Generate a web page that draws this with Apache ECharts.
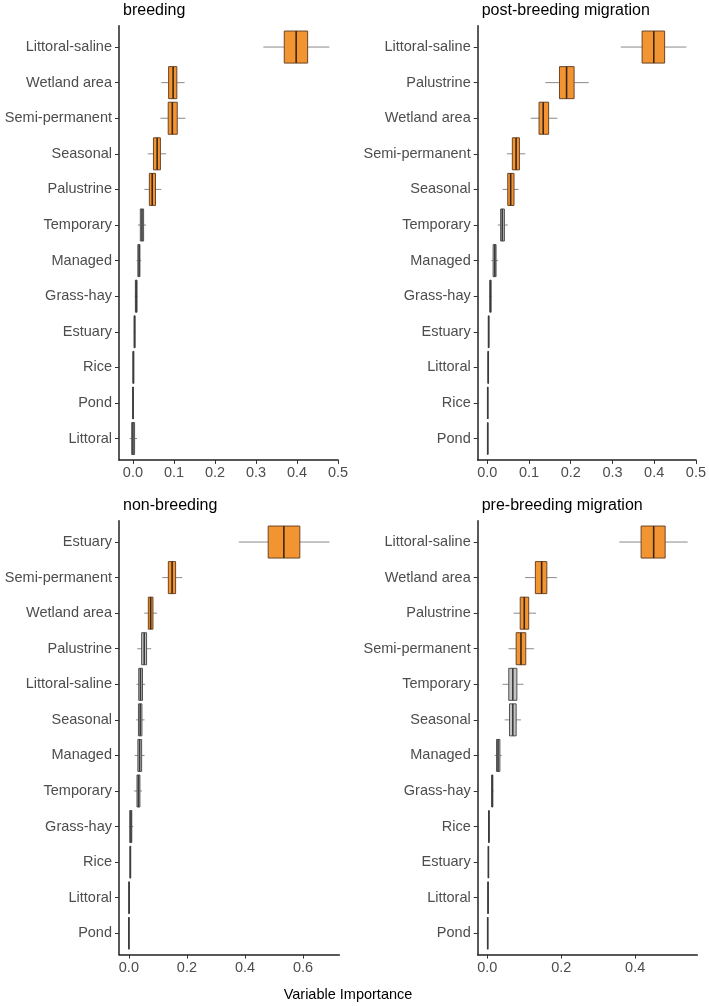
<!DOCTYPE html>
<html>
<head>
<meta charset="utf-8">
<script src="https://cdn.jsdelivr.net/npm/echarts@6/dist/echarts.min.js"></script>
<style>
  html, body { margin: 0; padding: 0; background: #fff; }
  #chart { width: 709px; height: 1006px; }
</style>
</head>
<body>
<div id="chart"></div>
<script>
// box stats per row: [lower whisker, q1, median, q3, upper whisker]
var breedingCats = ['Littoral-saline', 'Wetland area', 'Semi-permanent', 'Seasonal', 'Palustrine', 'Temporary',
  'Managed', 'Grass-hay', 'Estuary', 'Rice', 'Pond', 'Littoral'];
var breedingStats = [
  [0.318, 0.369, 0.398, 0.426, 0.479],
  [0.069, 0.087, 0.098, 0.107, 0.126],
  [0.067, 0.086, 0.096, 0.108, 0.128],
  [0.036, 0.050, 0.059, 0.067, 0.081],
  [0.028, 0.040, 0.047, 0.055, 0.069],
  [0.012, 0.018, 0.022, 0.026, 0.032],
  [0.009, 0.012, 0.015, 0.017, 0.020],
  [0.004, 0.006, 0.008, 0.010, 0.012],
  [0.002, 0.003, 0.004, 0.005, 0.006],
  [0.000, 0.000, 0.001, 0.002, 0.002],
  [0.000, 0.000, 0.000, 0.001, 0.001],
  [-0.008, -0.003, 0.000, 0.004, 0.010]
];
var breedingOrange = 5;
var breedingTicks = [0, 0.1, 0.2, 0.3, 0.4, 0.5];

var postCats = ['Littoral-saline', 'Palustrine', 'Wetland area', 'Semi-permanent', 'Seasonal', 'Temporary',
  'Managed', 'Grass-hay', 'Estuary', 'Littoral', 'Rice', 'Pond'];
var postStats = [
  [0.320, 0.371, 0.399, 0.425, 0.477],
  [0.139, 0.173, 0.190, 0.208, 0.243],
  [0.104, 0.124, 0.134, 0.147, 0.168],
  [0.047, 0.060, 0.069, 0.077, 0.091],
  [0.037, 0.049, 0.056, 0.064, 0.075],
  [0.025, 0.032, 0.036, 0.041, 0.049],
  [0.010, 0.014, 0.018, 0.021, 0.026],
  [0.004, 0.006, 0.0075, 0.009, 0.011],
  [0.002, 0.003, 0.003, 0.004, 0.004],
  [0.001, 0.002, 0.002, 0.003, 0.003],
  [0.000, 0.001, 0.001, 0.001, 0.002],
  [0.000, 0.001, 0.001, 0.001, 0.001]
];
var postOrange = 5;
var postTicks = [0, 0.1, 0.2, 0.3, 0.4, 0.5];

var nonCats = ['Estuary', 'Semi-permanent', 'Wetland area', 'Palustrine', 'Littoral-saline', 'Seasonal',
  'Managed', 'Temporary', 'Grass-hay', 'Rice', 'Littoral', 'Pond'];
var nonStats = [
  [0.379, 0.480, 0.534, 0.589, 0.691],
  [0.115, 0.136, 0.149, 0.161, 0.184],
  [0.053, 0.067, 0.075, 0.083, 0.097],
  [0.029, 0.044, 0.053, 0.061, 0.077],
  [0.026, 0.034, 0.040, 0.047, 0.056],
  [0.025, 0.033, 0.039, 0.045, 0.054],
  [0.020, 0.031, 0.037, 0.044, 0.054],
  [0.018, 0.028, 0.033, 0.038, 0.045],
  [0.000, 0.003, 0.007, 0.010, 0.015],
  [0.003, 0.004, 0.005, 0.006, 0.007],
  [0.000, 0.000, 0.001, 0.001, 0.001],
  [0.000, 0.000, 0.000, 0.000, 0.001]
];
var nonOrange = 3;
var nonTicks = [0, 0.2, 0.4, 0.6];

var preCats = ['Littoral-saline', 'Wetland area', 'Palustrine', 'Semi-permanent', 'Temporary', 'Seasonal',
  'Managed', 'Grass-hay', 'Rice', 'Estuary', 'Littoral', 'Pond'];
var preStats = [
  [0.357, 0.416, 0.450, 0.481, 0.542],
  [0.102, 0.130, 0.147, 0.161, 0.188],
  [0.071, 0.089, 0.100, 0.112, 0.132],
  [0.057, 0.078, 0.091, 0.104, 0.126],
  [0.041, 0.058, 0.069, 0.080, 0.098],
  [0.047, 0.060, 0.069, 0.078, 0.091],
  [0.020, 0.025, 0.029, 0.034, 0.039],
  [0.010, 0.012, 0.013, 0.015, 0.017],
  [0.003, 0.004, 0.004, 0.005, 0.005],
  [0.002, 0.003, 0.003, 0.003, 0.004],
  [0.001, 0.002, 0.002, 0.002, 0.003],
  [0.000, 0.001, 0.001, 0.001, 0.001]
];
var preOrange = 4;
var preTicks = [0, 0.2, 0.4];

var font = 'Liberation Sans, Arial, Helvetica, sans-serif';

var panels = [
  { title: 'breeding', cats: breedingCats, stats: breedingStats, orange: breedingOrange, ticks: breedingTicks,
    left: 119, top: 25.7, width: 219, height: 434.2, min: -0.034, max: 0.5 },
  { title: 'post-breeding migration', cats: postCats, stats: postStats, orange: postOrange, ticks: postTicks,
    left: 477.7, top: 25.7, width: 219.6, height: 434.2, min: -0.023, max: 0.5 },
  { title: 'non-breeding', cats: nonCats, stats: nonStats, orange: nonOrange, ticks: nonTicks,
    left: 119, top: 520.7, width: 220.3, height: 433.9, min: -0.034, max: 0.725 },
  { title: 'pre-breeding migration', cats: preCats, stats: preStats, orange: preOrange, ticks: preTicks,
    left: 477.7, top: 520.7, width: 219.6, height: 433.9, min: -0.026, max: 0.568 }
];

function renderBox(params, api) {
  var idx = api.value(0);
  var lo = api.value(1), q1 = api.value(2), med = api.value(3), q3 = api.value(4), hi = api.value(5);
  var hot = api.value(6) === 1;
  var yc = api.coord([0, idx])[1];
  var h = api.size([0, 1])[1] * 0.9;
  var xlo = api.coord([lo, idx])[0], x1 = api.coord([q1, idx])[0], xm = api.coord([med, idx])[0];
  var x3 = api.coord([q3, idx])[0], xhi = api.coord([hi, idx])[0];
  var fill = hot ? '#F39433' : '#C4C4C4';
  var edge = hot ? '#6B4526' : '#505050';
  var mid = hot ? '#3D2611' : '#3a3a3a';
  return {
    type: 'group',
    children: [
      { type: 'line', shape: { x1: xlo, y1: yc, x2: x1, y2: yc }, style: { stroke: '#8A8A8A', lineWidth: 1 } },
      { type: 'line', shape: { x1: x3, y1: yc, x2: xhi, y2: yc }, style: { stroke: '#8A8A8A', lineWidth: 1 } },
      { type: 'rect', shape: { x: x1, y: yc - h / 2, width: x3 - x1, height: h },
        style: { fill: fill, stroke: edge, lineWidth: 1 } },
      { type: 'line', shape: { x1: xm, y1: yc - h / 2, x2: xm, y2: yc + h / 2 }, style: { stroke: mid, lineWidth: 1.6 } }
    ]
  };
}

var grids = [], xAxes = [], yAxes = [], series = [], titles = [];
panels.forEach(function (p, k) {
  grids.push({ left: p.left, top: p.top, width: p.width, height: p.height });
  titles.push({
    text: p.title, left: p.left - 1, top: p.top - 28,
    textStyle: { fontSize: 16, fontWeight: 'normal', color: '#000', fontFamily: font }
  });
  xAxes.push({
    type: 'value', gridIndex: k, min: p.min, max: p.max,
    splitLine: { show: false },
    axisLine: { show: true, onZero: false, lineStyle: { color: '#222', width: 1.5 } },
    axisTick: { show: true, length: 4, customValues: p.ticks, lineStyle: { color: '#333', width: 1 } },
    axisLabel: {
      customValues: p.ticks, margin: 6, color: '#4D4D4D', fontSize: 14.5, fontFamily: font,
      formatter: function (v) { return Number(v).toFixed(1); }
    }
  });
  var idxs = p.cats.map(function (c, i) { return i; });
  yAxes.push({
    type: 'value', gridIndex: k, inverse: true, min: -0.6, max: 11.6,
    splitLine: { show: false },
    axisLine: { show: true, onZero: false, lineStyle: { color: '#222', width: 1.5 } },
    axisTick: { show: true, length: 4, customValues: idxs, lineStyle: { color: '#333', width: 1 } },
    axisLabel: {
      customValues: idxs, margin: 7, color: '#4D4D4D', fontSize: 14.5, fontFamily: font,
      formatter: function (v) { return p.cats[Math.round(v)] || ''; }
    }
  });
  var data = p.stats.map(function (s, i) {
    return [i, s[0], s[1], s[2], s[3], s[4], i < p.orange ? 1 : 0];
  });
  series.push({
    type: 'custom', xAxisIndex: k, yAxisIndex: k,
    renderItem: renderBox,
    encode: { x: [1, 5], y: 0 },
    data: data,
    silent: true
  });
});

var chart = echarts.init(document.getElementById('chart'));
chart.setOption({
  animation: false,
  backgroundColor: '#fff',
  title: titles,
  grid: grids,
  xAxis: xAxes,
  yAxis: yAxes,
  series: series,
  graphic: [{
    type: 'text', x: 348, y: 995,
    style: { text: 'Variable Importance', fill: '#000', fontSize: 14.5, fontFamily: font,
      textAlign: 'center', textVerticalAlign: 'middle' }
  }]
});
</script>
</body>
</html>
